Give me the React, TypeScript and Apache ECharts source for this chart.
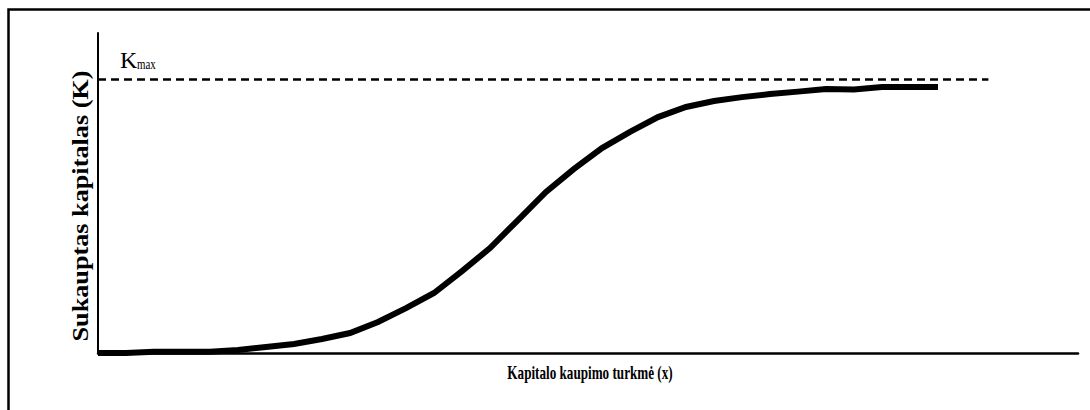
import React, { useEffect, useRef } from "react";
import * as echarts from "echarts";

// Capital accumulation periods (x) and accumulated capital K, in % of Kmax
const periods = [0, 1, 2, 3, 4, 5, 6, 7, 8, 9, 10, 11, 12, 13, 14, 15, 16, 17, 18, 19, 20, 21, 22, 23, 24, 25, 26, 27, 28, 29, 30];
const capitalK = [0, 0, 0.5, 0.5, 0.5, 1.1, 2.2, 3.3, 5.1, 7.3, 11.3, 16.4, 21.9, 29.9, 38.3, 48.5, 58.8, 67.2, 74.8, 80.7, 86.1, 89.8, 92.0, 93.4, 94.5, 95.4, 96.4, 96.2, 97.1, 97.1, 97.1];
const kMax = 100;
const kMaxLineEnd = 31.8;
const xAxisMax = 35;
const yAxisMax = 116.8;

const yTitle = "Sukauptas kapitalas (K)";
const xTitle = "Kapitalo kaupimo turkmė (x)";

const SERIF = '"Liberation Serif", "Times New Roman", serif';

export default function App() {
  const ref = useRef<HTMLDivElement>(null);
  useEffect(() => {
    if (!ref.current) return;
    const chart = echarts.init(ref.current, null, { renderer: "svg" });
    chart.setOption({
      animation: false,
      backgroundColor: "#fff",
      grid: { left: 98, right: 12, top: 33, bottom: 57, outerBoundsMode: "none" },
      xAxis: {
        type: "value",
        min: 0,
        max: xAxisMax,
        axisLine: { show: true, lineStyle: { color: "#000", width: 2.5 } },
        axisTick: { show: false },
        axisLabel: { show: false },
        splitLine: { show: false },
      },
      yAxis: {
        type: "value",
        min: 0,
        max: yAxisMax,
        axisLine: { show: true, lineStyle: { color: "#000", width: 2 } },
        axisTick: { show: false },
        axisLabel: { show: false },
        splitLine: { show: false },
      },
      series: [
        {
          type: "line",
          data: periods.map((p, i) => [p, capitalK[i]]),
          symbol: "none",
          smooth: false,
          lineStyle: { color: "#000", width: 6, cap: "butt", join: "miter" },
          markLine: {
            silent: true,
            symbol: "none",
            label: { show: false },
            lineStyle: { color: "#000", width: 2.5, type: [8, 5] },
            data: [[{ coord: [0, kMax] }, { coord: [kMaxLineEnd, kMax] }]],
          },
        },
      ],
      graphic: [
        {
          type: "rect",
          shape: { x: 8.5, y: 9.5, width: 1200, height: 600 },
          style: { fill: "none", stroke: "#000", lineWidth: 2.5 },
          z: -1,
        },
        {
          type: "text",
          x: 80,
          y: 206,
          rotation: Math.PI / 2,
          scaleX: 1.14,
          style: {
            text: yTitle,
            fontFamily: SERIF,
            fontWeight: "bold",
            fontSize: 23,
            fill: "#000",
            align: "center",
            verticalAlign: "middle",
          },
        },
        {
          type: "text",
          x: 590,
          y: 373,
          scaleX: 0.73,
          style: {
            text: xTitle,
            fontFamily: SERIF,
            fontWeight: "bold",
            fontSize: 18,
            fill: "#000",
            align: "center",
            verticalAlign: "middle",
          },
        },
        {
          type: "text",
          x: 120,
          y: 60,
          style: {
            text: "K",
            fontFamily: SERIF,
            fontSize: 24,
            fill: "#000",
            align: "left",
            verticalAlign: "middle",
          },
        },
        {
          type: "text",
          x: 137,
          y: 65,
          scaleX: 0.78,
          style: {
            text: "max",
            fontFamily: SERIF,
            fontSize: 14,
            fill: "#000",
            align: "left",
            verticalAlign: "middle",
          },
        },
      ],
    });
    return () => chart.dispose();
  }, []);
  return (
    <div
      ref={ref}
      style={{ position: "absolute", left: 0, top: 0, width: 1090, height: 410, background: "#fff" }}
    />
  );
}
